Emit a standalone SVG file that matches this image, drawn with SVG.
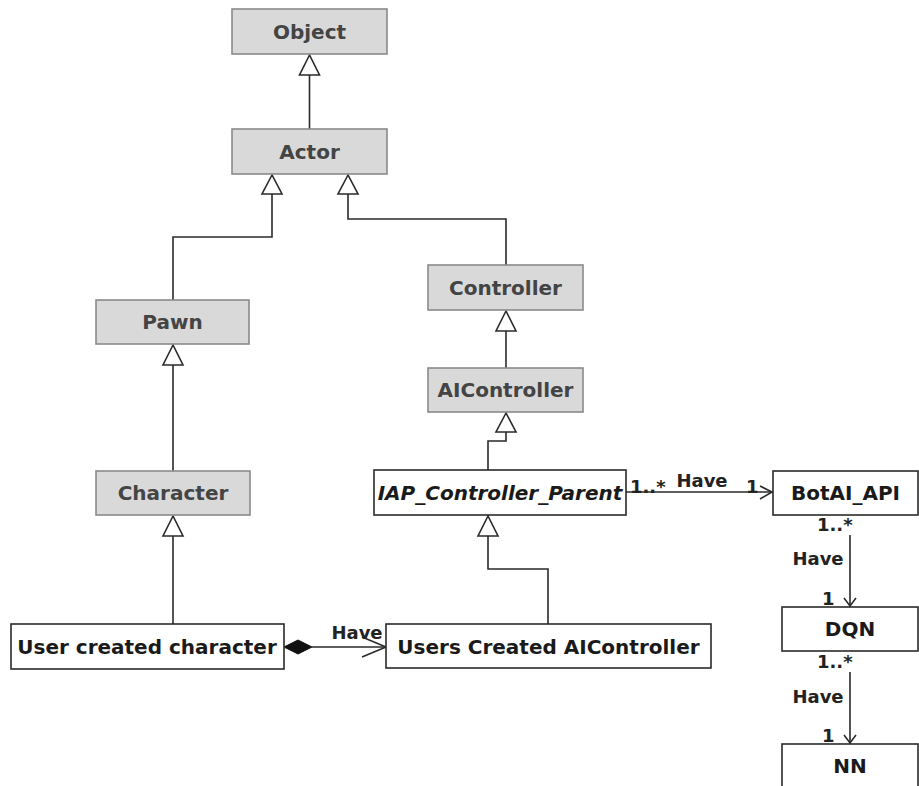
<svg xmlns="http://www.w3.org/2000/svg" width="919" height="786" viewBox="0 0 919 786">
<style>
.g rect{fill:#d9d9d9;stroke:#8a8a8a;stroke-width:1.6}
.w rect{fill:#fff;stroke:#2a2a2a;stroke-width:1.6}
text{font-family:"DejaVu Sans",Verdana,sans-serif;font-weight:bold}
.g text{font-size:20px;fill:#444;text-anchor:middle}
.w text{font-size:20px;fill:#1a1a1a;text-anchor:middle}
.lbl{font-size:18px;fill:#222}
.ln{fill:none;stroke:#2a2a2a;stroke-width:1.6}
.tri{fill:#fff;stroke:#2a2a2a;stroke-width:1.6;stroke-linejoin:miter}
</style>
<rect width="919" height="786" fill="#fff"/>
<g id="connectors">
  <path class="ln" d="M309.5,75 V129"/>
  <polygon class="tri" points="309.5,55 299.5,75 319.5,75"/>
  <path class="ln" d="M272,194 V237 H173 V300"/>
  <polygon class="tri" points="272,175 262,194 282,194"/>
  <path class="ln" d="M348,194 V219 H506 V265"/>
  <polygon class="tri" points="348,175 338,194 358,194"/>
  <path class="ln" d="M506,331 V368"/>
  <polygon class="tri" points="506,311 496,331 516,331"/>
  <path class="ln" d="M506,432 V441 H488 V470"/>
  <polygon class="tri" points="506,413 496,432 516,432"/>
  <path class="ln" d="M173,365 V471"/>
  <polygon class="tri" points="173,345 163,365 183,365"/>
  <path class="ln" d="M173,536 V624"/>
  <polygon class="tri" points="173,516 163,536 183,536"/>
  <path class="ln" d="M488,536 V569 H548 V624"/>
  <polygon class="tri" points="488,516 478,536 498,536"/>
  <path class="ln" d="M312,647 H386"/>
  <polygon points="284,647 298,640 312,647 298,654" fill="#111" stroke="#111" stroke-width="1"/>
  <path class="ln" d="M362,637 L386,647 L362,657"/>
  <text class="lbl" x="357" y="639" text-anchor="middle">Have</text>
  <path class="ln" d="M626,492 H773"/>
  <path class="ln" d="M760,486 L772,492 L760,499"/>
  <text class="lbl" x="630" y="493">1..*</text>
  <text class="lbl" x="702" y="487" text-anchor="middle">Have</text>
  <text class="lbl" x="746" y="493">1</text>
  <path class="ln" d="M850,535 V607"/>
  <path class="ln" d="M844,598 L850,606 L856,598"/>
  <text class="lbl" x="817" y="531">1..*</text>
  <text class="lbl" x="818" y="565" text-anchor="middle">Have</text>
  <text class="lbl" x="822" y="605">1</text>
  <path class="ln" d="M850,672 V744"/>
  <path class="ln" d="M844,735 L850,743 L856,735"/>
  <text class="lbl" x="817" y="668">1..*</text>
  <text class="lbl" x="818" y="703" text-anchor="middle">Have</text>
  <text class="lbl" x="822" y="742">1</text>
</g>
<g id="object" class="g"><rect x="232" y="9" width="155" height="45"/><text x="309.5" y="39">Object</text></g>
<g id="actor" class="g"><rect x="232" y="129" width="155" height="45"/><text x="309.5" y="159">Actor</text></g>
<g id="controller" class="g"><rect x="428" y="265" width="155" height="45"/><text x="505.5" y="295">Controller</text></g>
<g id="aicontroller" class="g"><rect x="428" y="368" width="155" height="44"/><text x="505.5" y="397">AIController</text></g>
<g id="pawn" class="g"><rect x="96" y="300" width="153" height="44"/><text x="172.5" y="329">Pawn</text></g>
<g id="character" class="g"><rect x="96" y="471" width="154" height="44"/><text x="173" y="500">Character</text></g>
<g id="iap" class="w"><rect x="374" y="470" width="252" height="45"/><text x="500" y="500" font-style="italic" font-size="19.5">IAP_Controller_Parent</text></g>
<g id="botai" class="w"><rect x="773" y="471" width="145" height="44"/><text x="845.5" y="500">BotAI_API</text></g>
<g id="dqn" class="w"><rect x="782" y="607" width="136" height="44"/><text x="850" y="636">DQN</text></g>
<g id="nn" class="w"><rect x="782" y="744" width="136" height="60"/><text x="850" y="773">NN</text></g>
<g id="usercharacter" class="w"><rect x="11" y="624" width="273" height="45"/><text x="147" y="654">User created character</text></g>
<g id="useraicontroller" class="w"><rect x="386" y="624" width="325" height="44"/><text x="548.5" y="654">Users Created AIController</text></g>
</svg>
